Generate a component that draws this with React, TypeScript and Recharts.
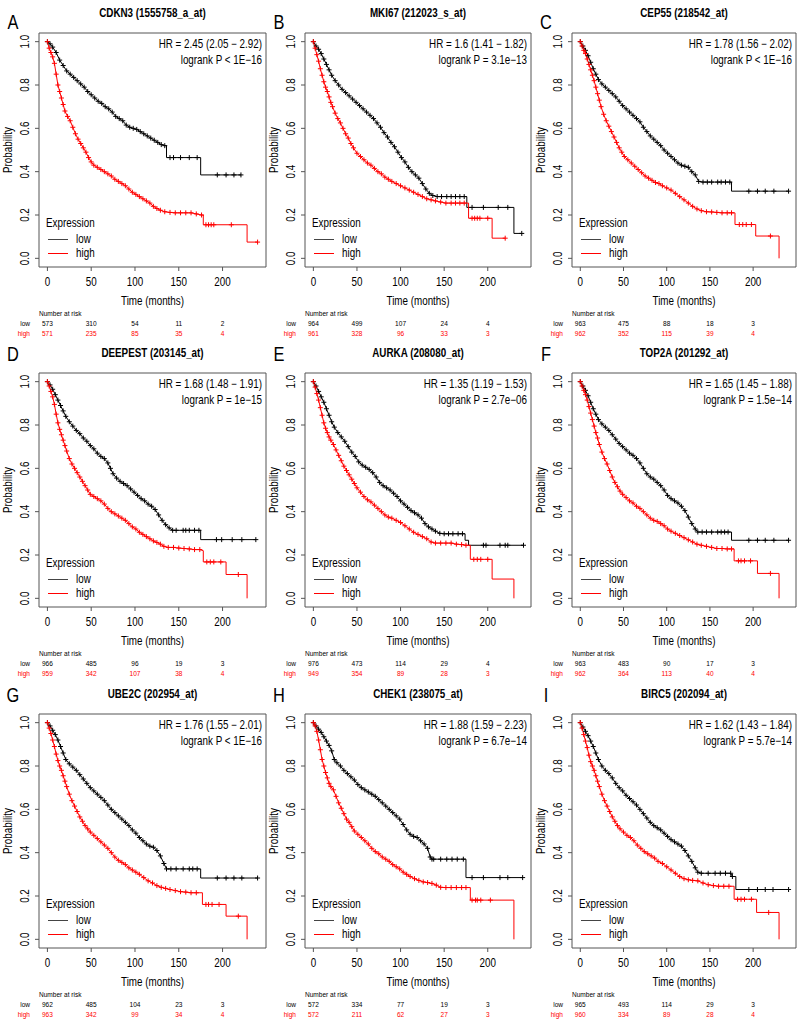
import { Line, LineChart, ReferenceArea, XAxis, YAxis } from 'recharts'

type Pt = [number, number]

const LETTERS = ['A', 'B', 'C', 'D', 'E', 'F', 'G', 'H', 'I']
const TITLES = [
  'CDKN3 (1555758_a_at)',
  'MKI67 (212023_s_at)',
  'CEP55 (218542_at)',
  'DEEPEST (203145_at)',
  'AURKA (208080_at)',
  'TOP2A (201292_at)',
  'UBE2C (202954_at)',
  'CHEK1 (238075_at)',
  'BIRC5 (202094_at)',
]
const HR_TEXT = [
  'HR = 2.45 (2.05 − 2.92)',
  'HR = 1.6 (1.41 − 1.82)',
  'HR = 1.78 (1.56 − 2.02)',
  'HR = 1.68 (1.48 − 1.91)',
  'HR = 1.35 (1.19 − 1.53)',
  'HR = 1.65 (1.45 − 1.88)',
  'HR = 1.76 (1.55 − 2.01)',
  'HR = 1.88 (1.59 − 2.23)',
  'HR = 1.62 (1.43 − 1.84)',
]
const P_TEXT = [
  'logrank P < 1E−16',
  'logrank P = 3.1e−13',
  'logrank P < 1E−16',
  'logrank P = 1e−15',
  'logrank P = 2.7e−06',
  'logrank P = 1.5e−14',
  'logrank P < 1E−16',
  'logrank P = 6.7e−14',
  'logrank P = 5.7e−14',
]
const RISK_TIMES = [0, 50, 100, 150, 200]
const RISK_LOW = [
  [573, 310, 54, 11, 2],
  [964, 499, 107, 24, 4],
  [963, 475, 88, 18, 3],
  [966, 485, 96, 19, 3],
  [976, 473, 114, 29, 4],
  [963, 483, 90, 17, 3],
  [962, 485, 104, 23, 3],
  [572, 334, 77, 19, 3],
  [965, 493, 114, 29, 3],
]
const RISK_HIGH = [
  [571, 235, 85, 35, 4],
  [961, 328, 96, 33, 3],
  [962, 352, 115, 39, 4],
  [959, 342, 107, 38, 4],
  [949, 354, 89, 28, 3],
  [962, 364, 113, 40, 4],
  [963, 342, 99, 34, 4],
  [572, 211, 62, 27, 3],
  [960, 334, 89, 28, 4],
]
const X_TICKS = [0, 50, 100, 150, 200]
const Y_TICKS = [0, 0.2, 0.4, 0.6, 0.8, 1]
const X_DOMAIN: [number, number] = [-9.6, 249.6]
const Y_DOMAIN: [number, number] = [-0.04, 1.04]

// survival curves (months, probability)
const LOW_A: Pt[] = [[0,1],[3,0.99],[6,0.975],[10,0.95],[14,0.915],[18,0.89],[22,0.865],[26,0.85],[30,0.835],[34,0.82],[38,0.805],[42,0.79],[46,0.77],[50,0.755],[54,0.74],[58,0.725],[62,0.715],[66,0.7],[70,0.69],[74,0.675],[78,0.655],[82,0.645],[86,0.635],[90,0.615],[94,0.605],[98,0.6],[102,0.595],[106,0.585],[110,0.575],[114,0.565],[118,0.555],[122,0.545],[126,0.535],[130,0.525],[134,0.52],[136,0.52],[136,0.465],[140,0.465],[144,0.465],[152,0.465],[162,0.465],[171,0.465],[175,0.465],[175,0.385],[194,0.385],[204,0.385],[213,0.385],[221,0.385]]
const HIGH_A: Pt[] = [[0,1],[2,0.97],[4,0.95],[6,0.93],[8,0.9],[10,0.85],[12,0.8],[14,0.77],[16,0.74],[18,0.71],[20,0.68],[23,0.655],[26,0.635],[29,0.605],[32,0.575],[35,0.55],[38,0.53],[41,0.51],[44,0.49],[47,0.465],[50,0.445],[53,0.43],[57,0.42],[61,0.41],[65,0.4],[69,0.39],[73,0.38],[77,0.365],[81,0.355],[85,0.345],[89,0.335],[93,0.32],[97,0.305],[101,0.295],[105,0.285],[109,0.275],[113,0.265],[117,0.255],[121,0.24],[125,0.23],[129,0.222],[134,0.215],[140,0.212],[146,0.21],[152,0.21],[158,0.21],[164,0.21],[170,0.205],[176,0.2],[178,0.2],[178,0.155],[181,0.155],[184,0.155],[187,0.155],[190,0.155],[210,0.155],[228,0.155],[228,0.075],[240,0.075]]

const LOW_B: Pt[] = [[0,1],[3,0.98],[6,0.965],[9,0.945],[12,0.92],[15,0.895],[18,0.87],[21,0.845],[25,0.82],[29,0.8],[33,0.78],[37,0.765],[41,0.75],[45,0.735],[49,0.72],[53,0.705],[57,0.69],[61,0.675],[65,0.66],[69,0.645],[73,0.625],[77,0.605],[81,0.58],[85,0.56],[89,0.535],[93,0.515],[97,0.49],[101,0.465],[105,0.445],[109,0.42],[113,0.4],[117,0.385],[121,0.37],[125,0.345],[129,0.32],[133,0.3],[137,0.29],[142,0.285],[147,0.285],[153,0.285],[158,0.285],[163,0.285],[168,0.285],[173,0.285],[176,0.285],[176,0.235],[182,0.235],[195,0.235],[212,0.235],[223,0.235],[230,0.235],[230,0.115],[239,0.115]]
const HIGH_B: Pt[] = [[0,1],[2,0.97],[4,0.94],[6,0.91],[8,0.875],[10,0.845],[12,0.815],[14,0.79],[16,0.77],[18,0.745],[20,0.72],[22,0.7],[25,0.67],[28,0.645],[31,0.625],[34,0.6],[37,0.575],[40,0.555],[43,0.53],[46,0.51],[50,0.485],[54,0.47],[58,0.455],[62,0.44],[66,0.43],[70,0.415],[74,0.4],[78,0.39],[82,0.375],[86,0.365],[90,0.355],[95,0.345],[100,0.335],[105,0.325],[110,0.315],[115,0.305],[120,0.295],[125,0.285],[130,0.275],[135,0.27],[140,0.265],[146,0.26],[152,0.255],[158,0.255],[163,0.255],[168,0.255],[173,0.255],[178,0.255],[178,0.185],[182,0.185],[185,0.185],[188,0.185],[191,0.185],[200,0.185],[205,0.185],[205,0.093],[220,0.093]]

const LOW_C: Pt[] = [[0,1],[3,0.98],[6,0.96],[9,0.935],[12,0.905],[15,0.875],[18,0.85],[21,0.825],[25,0.805],[29,0.79],[33,0.775],[37,0.76],[41,0.745],[45,0.725],[49,0.705],[53,0.69],[57,0.675],[61,0.66],[65,0.645],[69,0.63],[73,0.605],[77,0.585],[81,0.565],[85,0.55],[89,0.535],[93,0.52],[97,0.5],[101,0.485],[105,0.47],[109,0.455],[113,0.44],[117,0.43],[121,0.425],[125,0.42],[129,0.4],[133,0.385],[137,0.355],[142,0.352],[147,0.352],[152,0.352],[159,0.352],[163,0.352],[168,0.352],[173,0.352],[175,0.352],[175,0.31],[195,0.31],[205,0.31],[214,0.31],[224,0.31],[241,0.31]]
const HIGH_C: Pt[] = [[0,1],[2,0.98],[4,0.96],[6,0.945],[8,0.92],[10,0.895],[12,0.87],[14,0.845],[16,0.82],[18,0.79],[20,0.76],[22,0.73],[24,0.7],[27,0.665],[30,0.635],[33,0.61],[36,0.585],[39,0.56],[42,0.535],[45,0.51],[48,0.49],[51,0.47],[55,0.455],[59,0.44],[63,0.425],[67,0.41],[71,0.395],[75,0.38],[79,0.37],[83,0.36],[87,0.35],[91,0.345],[95,0.335],[100,0.325],[105,0.315],[110,0.3],[115,0.285],[120,0.27],[125,0.255],[130,0.24],[135,0.228],[140,0.22],[146,0.215],[152,0.214],[158,0.212],[164,0.21],[170,0.21],[175,0.21],[179,0.21],[179,0.156],[184,0.156],[188,0.156],[192,0.156],[198,0.156],[203,0.156],[203,0.103],[220,0.103],[230,0.103],[230,0]]

const LOW_D: Pt[] = [[0,1],[3,0.985],[6,0.965],[9,0.94],[12,0.915],[15,0.89],[18,0.865],[21,0.84],[25,0.815],[29,0.795],[33,0.775],[37,0.76],[41,0.74],[45,0.725],[49,0.705],[53,0.69],[57,0.67],[61,0.655],[65,0.645],[69,0.625],[72,0.6],[75,0.575],[79,0.555],[83,0.54],[87,0.53],[91,0.52],[95,0.505],[99,0.49],[103,0.475],[107,0.46],[111,0.45],[115,0.435],[119,0.425],[123,0.41],[127,0.385],[131,0.36],[135,0.34],[139,0.325],[143,0.314],[147,0.314],[155,0.314],[158,0.314],[162,0.314],[168,0.314],[173,0.314],[175,0.314],[175,0.271],[193,0.271],[199,0.271],[211,0.271],[222,0.271],[238,0.271]]
const HIGH_D: Pt[] = [[0,1],[2,0.98],[4,0.955],[6,0.93],[8,0.895],[10,0.85],[12,0.81],[14,0.78],[16,0.755],[18,0.73],[20,0.705],[22,0.68],[25,0.645],[28,0.62],[31,0.6],[34,0.58],[37,0.56],[40,0.54],[43,0.52],[46,0.5],[49,0.48],[53,0.47],[57,0.46],[61,0.45],[65,0.435],[69,0.415],[73,0.4],[77,0.39],[81,0.38],[85,0.37],[89,0.36],[93,0.345],[97,0.33],[101,0.32],[105,0.305],[109,0.295],[113,0.285],[117,0.275],[121,0.265],[125,0.258],[129,0.25],[133,0.24],[138,0.235],[144,0.235],[150,0.232],[156,0.23],[162,0.228],[168,0.225],[174,0.225],[178,0.22],[178,0.168],[182,0.168],[186,0.168],[190,0.168],[198,0.168],[204,0.168],[204,0.11],[218,0.11],[228,0.11],[228,0]]

const LOW_E: Pt[] = [[0,1],[3,0.98],[6,0.955],[9,0.93],[12,0.905],[15,0.875],[18,0.845],[21,0.815],[24,0.79],[28,0.765],[32,0.745],[36,0.725],[40,0.7],[44,0.675],[48,0.655],[52,0.63],[56,0.615],[60,0.605],[64,0.595],[68,0.58],[72,0.56],[76,0.535],[80,0.52],[84,0.51],[88,0.5],[92,0.485],[96,0.47],[100,0.45],[104,0.435],[108,0.42],[112,0.405],[116,0.395],[120,0.385],[124,0.37],[128,0.345],[132,0.33],[136,0.32],[140,0.31],[145,0.3],[150,0.298],[155,0.298],[160,0.298],[166,0.298],[171,0.298],[174,0.298],[174,0.268],[178,0.268],[178,0.245],[195,0.245],[198,0.245],[214,0.245],[220,0.245],[223,0.245],[241,0.245]]
const HIGH_E: Pt[] = [[0,1],[2,0.975],[4,0.945],[6,0.915],[8,0.88],[10,0.845],[12,0.81],[14,0.785],[16,0.765],[18,0.745],[20,0.73],[23,0.71],[26,0.685],[29,0.66],[32,0.635],[35,0.61],[38,0.59],[41,0.57],[44,0.55],[47,0.53],[50,0.51],[54,0.49],[58,0.47],[62,0.455],[66,0.445],[70,0.43],[74,0.415],[78,0.4],[82,0.385],[86,0.375],[90,0.37],[95,0.36],[100,0.35],[105,0.335],[110,0.32],[115,0.305],[120,0.295],[125,0.285],[130,0.275],[135,0.26],[140,0.255],[146,0.255],[152,0.255],[158,0.255],[164,0.25],[170,0.248],[175,0.245],[180,0.245],[180,0.18],[184,0.18],[188,0.18],[192,0.18],[200,0.18],[205,0.18],[205,0.089],[230,0.089],[230,0]]

const LOW_F: Pt[] = [[0,1],[3,0.98],[6,0.96],[9,0.935],[12,0.905],[15,0.875],[18,0.85],[21,0.825],[25,0.805],[29,0.79],[33,0.775],[37,0.755],[41,0.735],[45,0.715],[49,0.7],[53,0.685],[57,0.67],[61,0.66],[65,0.645],[69,0.625],[73,0.6],[77,0.575],[81,0.56],[85,0.55],[89,0.535],[93,0.52],[97,0.5],[101,0.475],[105,0.46],[109,0.45],[113,0.44],[117,0.425],[121,0.405],[125,0.375],[129,0.345],[133,0.32],[136,0.306],[141,0.306],[146,0.306],[152,0.306],[159,0.306],[163,0.306],[167,0.306],[171,0.306],[175,0.306],[175,0.268],[195,0.268],[205,0.268],[214,0.268],[224,0.268],[241,0.268]]
const HIGH_F: Pt[] = [[0,1],[2,0.98],[4,0.96],[6,0.94],[8,0.915],[10,0.885],[12,0.855],[14,0.825],[16,0.795],[18,0.765],[20,0.74],[22,0.71],[25,0.675],[28,0.645],[31,0.62],[34,0.59],[37,0.56],[40,0.535],[43,0.515],[46,0.495],[49,0.48],[53,0.465],[57,0.45],[61,0.44],[65,0.425],[69,0.415],[73,0.4],[77,0.385],[81,0.37],[85,0.36],[89,0.355],[93,0.345],[97,0.335],[101,0.32],[105,0.31],[110,0.3],[115,0.29],[120,0.28],[125,0.27],[130,0.26],[135,0.25],[140,0.245],[146,0.24],[152,0.235],[158,0.23],[164,0.23],[170,0.228],[175,0.228],[178,0.228],[178,0.173],[183,0.173],[186,0.173],[190,0.173],[197,0.173],[205,0.173],[205,0.115],[220,0.115],[230,0.115],[230,0]]

const LOW_G: Pt[] = [[0,1],[3,0.985],[6,0.965],[9,0.945],[12,0.92],[15,0.89],[18,0.86],[21,0.83],[25,0.81],[29,0.795],[33,0.78],[37,0.76],[41,0.74],[45,0.72],[49,0.7],[53,0.685],[57,0.67],[61,0.655],[65,0.64],[69,0.62],[73,0.6],[77,0.585],[81,0.57],[85,0.555],[89,0.54],[93,0.525],[97,0.505],[101,0.49],[105,0.47],[109,0.455],[113,0.44],[117,0.43],[121,0.425],[125,0.41],[129,0.385],[133,0.35],[136,0.325],[141,0.325],[147,0.325],[155,0.325],[162,0.325],[166,0.325],[171,0.325],[175,0.325],[175,0.283],[194,0.283],[204,0.283],[213,0.283],[222,0.283],[240,0.283]]
const HIGH_G: Pt[] = [[0,1],[2,0.975],[4,0.95],[6,0.92],[8,0.89],[10,0.855],[12,0.825],[14,0.8],[16,0.78],[18,0.755],[20,0.73],[22,0.705],[25,0.67],[28,0.64],[31,0.615],[34,0.59],[37,0.565],[40,0.545],[43,0.525],[46,0.51],[49,0.495],[53,0.48],[57,0.465],[61,0.45],[65,0.435],[69,0.42],[73,0.4],[77,0.38],[81,0.365],[85,0.355],[89,0.345],[93,0.33],[97,0.32],[101,0.31],[105,0.3],[110,0.285],[115,0.27],[120,0.26],[125,0.248],[130,0.24],[135,0.235],[140,0.23],[146,0.225],[152,0.22],[158,0.218],[164,0.215],[170,0.215],[177,0.215],[177,0.161],[181,0.161],[184,0.161],[188,0.161],[196,0.161],[204,0.161],[204,0.107],[218,0.107],[228,0.107],[228,0]]

const LOW_H: Pt[] = [[0,1],[3,0.985],[6,0.97],[9,0.955],[12,0.935],[15,0.915],[18,0.895],[21,0.87],[24,0.83],[27,0.815],[31,0.8],[35,0.78],[39,0.765],[43,0.75],[47,0.735],[51,0.715],[55,0.7],[59,0.69],[63,0.68],[67,0.67],[71,0.66],[75,0.645],[79,0.63],[83,0.615],[87,0.6],[91,0.585],[95,0.57],[99,0.555],[103,0.53],[107,0.505],[111,0.485],[115,0.475],[119,0.47],[123,0.455],[127,0.44],[131,0.42],[134,0.38],[136,0.37],[138,0.37],[146,0.37],[153,0.37],[159,0.37],[165,0.37],[172,0.37],[175,0.37],[175,0.285],[182,0.285],[195,0.285],[214,0.285],[223,0.285],[240,0.285]]
const HIGH_H: Pt[] = [[0,1],[2,0.985],[4,0.96],[6,0.92],[8,0.875],[10,0.83],[12,0.8],[14,0.77],[16,0.745],[18,0.72],[20,0.705],[23,0.69],[26,0.66],[29,0.63],[32,0.605],[35,0.58],[38,0.555],[41,0.54],[44,0.52],[47,0.5],[51,0.485],[55,0.47],[59,0.455],[63,0.44],[67,0.42],[71,0.405],[75,0.395],[79,0.38],[83,0.37],[87,0.36],[91,0.345],[95,0.335],[99,0.325],[103,0.31],[107,0.3],[111,0.29],[116,0.28],[121,0.272],[126,0.265],[131,0.262],[136,0.258],[141,0.25],[146,0.24],[152,0.239],[158,0.239],[164,0.239],[170,0.239],[175,0.239],[180,0.239],[180,0.181],[182,0.181],[186,0.181],[188,0.181],[192,0.181],[203,0.181],[230,0.181],[230,0]]

const LOW_I: Pt[] = [[0,1],[3,0.98],[6,0.96],[9,0.94],[12,0.915],[15,0.89],[18,0.86],[21,0.83],[25,0.8],[29,0.78],[33,0.765],[37,0.745],[41,0.72],[45,0.7],[49,0.685],[53,0.665],[57,0.65],[61,0.635],[65,0.62],[69,0.6],[73,0.58],[77,0.56],[81,0.54],[85,0.525],[89,0.515],[93,0.505],[97,0.49],[101,0.475],[105,0.46],[109,0.45],[113,0.44],[117,0.43],[121,0.41],[125,0.385],[129,0.36],[133,0.33],[136,0.31],[140,0.305],[148,0.305],[156,0.305],[162,0.305],[168,0.305],[174,0.305],[176,0.29],[180,0.29],[180,0.23],[195,0.23],[205,0.23],[214,0.23],[223,0.23],[241,0.23]]
const HIGH_I: Pt[] = [[0,1],[2,0.975],[4,0.945],[6,0.915],[8,0.885],[10,0.85],[12,0.82],[14,0.8],[16,0.78],[18,0.755],[20,0.73],[22,0.705],[25,0.67],[28,0.64],[31,0.615],[34,0.59],[37,0.565],[40,0.545],[43,0.525],[46,0.51],[50,0.495],[54,0.48],[58,0.47],[62,0.455],[66,0.435],[70,0.42],[74,0.405],[78,0.395],[82,0.385],[86,0.375],[90,0.36],[95,0.35],[100,0.335],[105,0.32],[110,0.305],[115,0.29],[120,0.28],[125,0.275],[130,0.272],[136,0.27],[142,0.26],[148,0.252],[154,0.248],[160,0.245],[166,0.245],[172,0.245],[178,0.245],[178,0.185],[182,0.185],[186,0.185],[190,0.185],[198,0.185],[204,0.185],[204,0.124],[218,0.124],[230,0.124],[230,0]]

const LOW = [LOW_A, LOW_B, LOW_C, LOW_D, LOW_E, LOW_F, LOW_G, LOW_H, LOW_I]
const HIGH = [HIGH_A, HIGH_B, HIGH_C, HIGH_D, HIGH_E, HIGH_F, HIGH_G, HIGH_H, HIGH_I]

// page layout (px)
const BOX_LEFT = [39, 305, 572]
const BOX_RIGHT = [266, 531, 796]
const ROW_TOP = [0, 340, 681]
const LETTER_Y = [21.5, 13.5, 14]
const PAD = 39 // room left of the plot box for tick labels
const BOX_TOP = 33
const BOX_BOTTOM = 267

const FONT = "'Liberation Sans', Arial, Helvetica, sans-serif"
const NARROW = 0.82
const INK = '#555'
const RED = '#ff0000'

function NText({ x, y, size = 12, anchor = 'middle', fill = '#000', bold = false, rot = false, children }: any) {
  const tr = `translate(${x},${y})${rot ? ' rotate(-90)' : ''} scale(${NARROW},1)`
  return (
    <text
      transform={tr}
      fontSize={size}
      textAnchor={anchor}
      fill={fill}
      fontWeight={bold ? 700 : 400}
      fontFamily={FONT}
      dominantBaseline="central"
    >
      {children}
    </text>
  )
}

const XTick = (p: any) => (
  <NText x={p.x} y={BOX_BOTTOM + 14.5}>
    {String(p.payload.value)}
  </NText>
)

const YTick = (p: any) => (
  <NText x={PAD - 14.5} y={p.y} rot>
    {Number(p.payload.value).toFixed(1)}
  </NText>
)

// "+" censor marks on every point that is not a step corner
const censorDot = (pts: Pt[], color: string) => (p: any) => {
  const i = p.index
  const t = pts[i][0]
  const corner = (i > 0 && pts[i - 1][0] === t) || (i < pts.length - 1 && pts[i + 1][0] === t)
  if (corner || p.cx == null) return <g key={`c${i}`} />
  return (
    <path
      key={`c${i}`}
      d={`M${p.cx - 2.5},${p.cy}h5M${p.cx},${p.cy - 2.5}v5`}
      stroke={color}
      strokeWidth={1}
      fill="none"
    />
  )
}

function KMPanel({ idx }: { idx: number }) {
  const col = idx % 3
  const row = Math.floor(idx / 3)
  const w = BOX_RIGHT[col] - BOX_LEFT[col]
  const width = w + PAD + 1
  const low = LOW[idx].map(([t, s]) => ({ t, s }))
  const high = HIGH[idx].map(([t, s]) => ({ t, s }))
  const sx = (t: number) => PAD + ((t - X_DOMAIN[0]) / (X_DOMAIN[1] - X_DOMAIN[0])) * w
  const mid = PAD + w / 2

  return (
    <div style={{ position: 'absolute', left: BOX_LEFT[col] - PAD, top: ROW_TOP[row], width, height: 340 }}>
      <LineChart width={width} height={300} margin={{ top: BOX_TOP, right: 1, bottom: 0, left: 0 }}>
        <XAxis
          type="number"
          dataKey="t"
          domain={X_DOMAIN}
          ticks={X_TICKS}
          interval={0}
          allowDataOverflow
          axisLine={false}
          tickSize={4}
          tickMargin={0}
          tickLine={{ stroke: INK }}
          height={300 - BOX_BOTTOM}
          tick={XTick}
        />
        <YAxis
          type="number"
          domain={Y_DOMAIN}
          ticks={Y_TICKS}
          interval={0}
          allowDataOverflow
          axisLine={false}
          tickSize={4}
          tickMargin={0}
          tickLine={{ stroke: INK }}
          width={PAD}
          tick={YTick}
        />
        <ReferenceArea
          x1={X_DOMAIN[0]}
          x2={X_DOMAIN[1]}
          y1={Y_DOMAIN[0]}
          y2={Y_DOMAIN[1]}
          fill="none"
          stroke={INK}
          strokeWidth={1}
          ifOverflow="visible"
        />
        <Line
          data={low}
          dataKey="s"
          type="linear"
          stroke="#000"
          strokeWidth={1}
          dot={censorDot(LOW[idx], '#000')}
          activeDot={false}
          isAnimationActive={false}
        />
        <Line
          data={high}
          dataKey="s"
          type="linear"
          stroke={RED}
          strokeWidth={1}
          dot={censorDot(HIGH[idx], RED)}
          activeDot={false}
          isAnimationActive={false}
        />
      </LineChart>

      <svg
        width={width}
        height={340}
        style={{ position: 'absolute', left: 0, top: 0, overflow: 'visible', pointerEvents: 'none' }}
      >
        <NText x={13} y={LETTER_Y[row]} size={20}>
          {LETTERS[idx]}
        </NText>
        <NText x={mid} y={13} bold>
          {TITLES[idx]}
        </NText>
        <NText x={PAD + w - 4} y={BOX_TOP + 11} anchor="end">
          {HR_TEXT[idx]}
        </NText>
        <NText x={PAD + w - 4} y={BOX_TOP + 27} anchor="end">
          {P_TEXT[idx]}
        </NText>

        {/* legend */}
        <NText x={PAD + 7} y={BOX_BOTTOM - 44} anchor="start">
          Expression
        </NText>
        <line x1={PAD + 9} x2={PAD + 29} y1={BOX_BOTTOM - 27.5} y2={BOX_BOTTOM - 27.5} stroke="#444" strokeWidth={1} />
        <NText x={PAD + 37} y={BOX_BOTTOM - 28} anchor="start">
          low
        </NText>
        <line x1={PAD + 9} x2={PAD + 29} y1={BOX_BOTTOM - 13.5} y2={BOX_BOTTOM - 13.5} stroke={RED} strokeWidth={1} />
        <NText x={PAD + 37} y={BOX_BOTTOM - 14} anchor="start">
          high
        </NText>

        {/* axis titles */}
        <NText x={8} y={(BOX_TOP + BOX_BOTTOM) / 2} rot>
          Probability
        </NText>
        <NText x={mid} y={301}>
          Time (months)
        </NText>

        {/* number at risk */}
        <NText x={PAD} y={313} size={8} anchor="start">
          Number at risk
        </NText>
        <NText x={PAD - 9} y={323.5} size={8} anchor="end">
          low
        </NText>
        <NText x={PAD - 9} y={333} size={8} anchor="end" fill={RED}>
          high
        </NText>
        {RISK_TIMES.map((t, k) => (
          <g key={t}>
            <NText x={sx(t)} y={323.5} size={8}>
              {String(RISK_LOW[idx][k])}
            </NText>
            <NText x={sx(t)} y={333} size={8} fill={RED}>
              {String(RISK_HIGH[idx][k])}
            </NText>
          </g>
        ))}
      </svg>
    </div>
  )
}

export default function App() {
  return (
    <div style={{ position: 'absolute', left: 0, top: 0, width: 800, height: 1022, background: '#fff', overflow: 'hidden' }}>
      {LETTERS.map((_, i) => (
        <KMPanel key={i} idx={i} />
      ))}
    </div>
  )
}
